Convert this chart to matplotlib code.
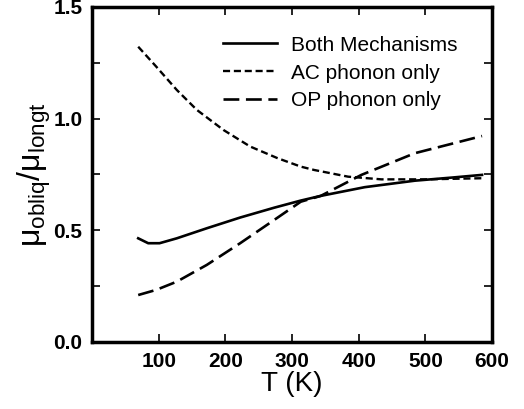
import numpy as np
import matplotlib.pyplot as plt

plt.rcParams["font.family"] = ["Liberation Sans", "DejaVu Sans"]
plt.rcParams["mathtext.fontset"] = "custom"
plt.rcParams["mathtext.rm"] = "Liberation Sans"
plt.rcParams["mathtext.it"] = "Liberation Sans"

# temperaturas (K) y razones de movilidad
T_both = [69, 84, 101, 127, 172, 222, 273, 313, 343, 409, 484, 540, 585]
both = [0.464, 0.442, 0.442, 0.464, 0.509, 0.557, 0.601, 0.633, 0.654, 0.693, 0.722, 0.736, 0.748]

T_ac = [69, 96, 127, 157, 197, 237, 278, 313, 333, 384, 434, 500, 585]
ac = [1.322, 1.233, 1.128, 1.039, 0.949, 0.875, 0.823, 0.785, 0.77, 0.74, 0.728, 0.728, 0.733]

T_op = [69, 96, 127, 172, 222, 273, 313, 343, 404, 484, 585]
op = [0.21, 0.233, 0.27, 0.345, 0.442, 0.546, 0.628, 0.654, 0.748, 0.845, 0.922]

fig = plt.figure(figsize=(5.24, 4.09), dpi=100)
ax = fig.add_axes([0.176, 0.164, 0.763, 0.819])

ax.plot(T_both, both, "k-", lw=1.9, label="Both Mechanisms")
ax.plot(T_ac, ac, "k", lw=1.7, dashes=(3, 1.6), label="AC phonon only")
ax.plot(T_op, op, "k", lw=1.9, dashes=(6, 2.5), label="OP phonon only")

ax.set_xlim(0, 600)
ax.set_ylim(0, 1.5)
ax.set_xticks([100, 200, 300, 400, 500, 600])
ax.set_yticks([0.0, 0.5, 1.0, 1.5])
ax.set_yticks([0.25, 0.75, 1.25], minor=True)
ax.tick_params(which="both", direction="in", top=True, right=True, width=1.2)
ax.tick_params(which="major", length=6, labelsize=15, pad=7)
ax.tick_params(which="minor", length=6)
for lab in ax.get_xticklabels() + ax.get_yticklabels():
    lab.set_fontweight("bold")
for s in ax.spines.values():
    s.set_linewidth(2.5)

ax.set_xlabel("T (K)", fontsize=20, labelpad=0)
ax.set_ylabel(r"$\mathregular{\mu_{obliq}/\mu_{longt}}$", fontsize=23, labelpad=0)

leg = ax.legend(loc="upper right", frameon=False, fontsize=15, handlelength=2.6,
                handletextpad=0.65, labelspacing=0.42, bbox_to_anchor=(0.96, 0.97))

fig.savefig("out.png", dpi=100)
